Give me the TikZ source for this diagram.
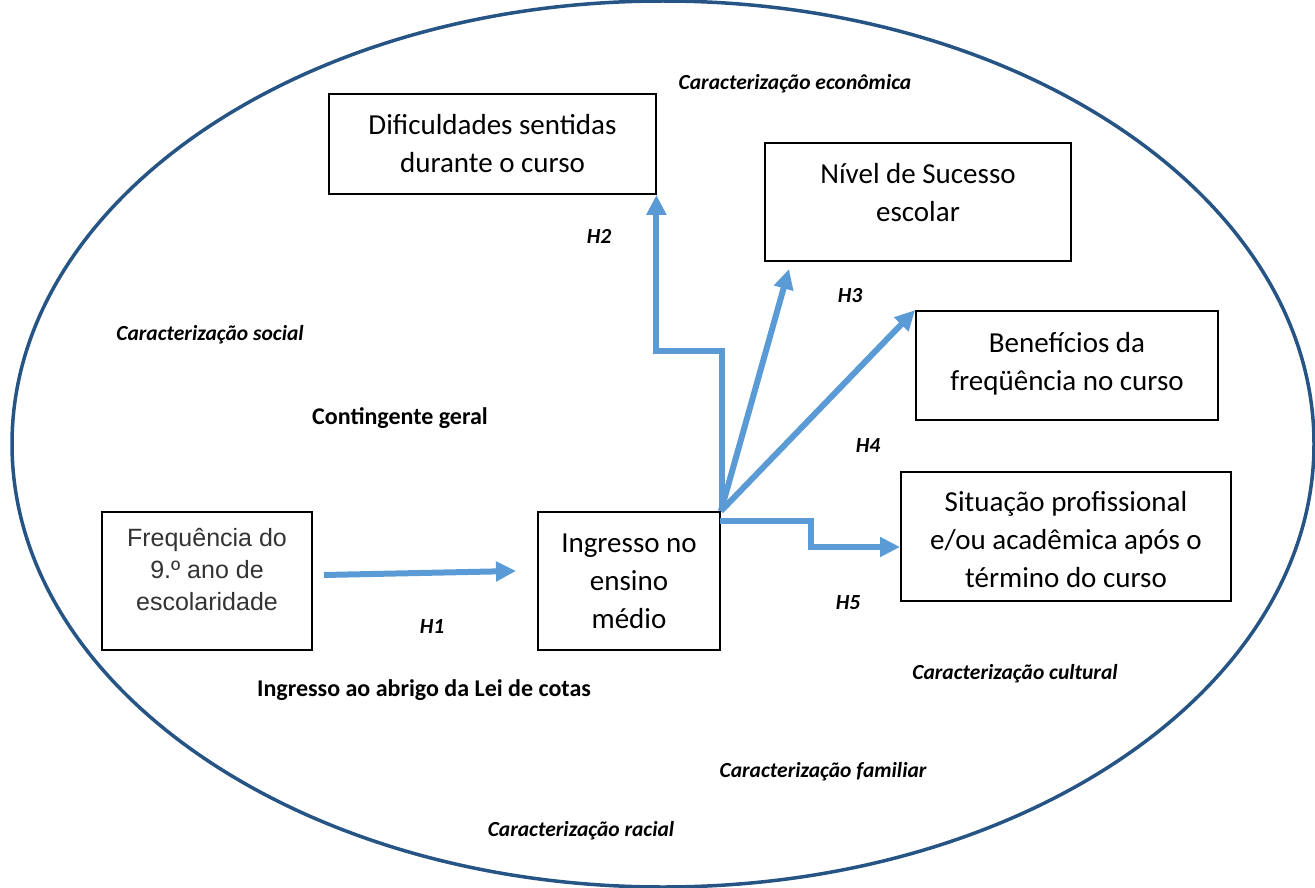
\documentclass[tikz,border=0pt]{standalone}
\usepackage{fontspec}
\setmainfont{Carlito}
\newfontfamily\arialfont{Liberation Sans}
\usetikzlibrary{arrows.meta}
\definecolor{ellblue}{RGB}{38,84,132}
\definecolor{arrblue}{RGB}{91,155,213}
\tikzset{
  boxnode/.style={draw=black, line width=1.8pt, align=center, inner sep=0pt,
    font=\fontsize{29}{38}\selectfont},
  lab/.style={font=\fontsize{21.5}{25}\selectfont\bfseries\itshape, inner sep=0pt},
  boldlab/.style={font=\fontsize{24}{28}\selectfont\bfseries, inner sep=0pt},
  hyp/.style={arrblue, line width=6pt, line join=miter, -{Triangle[length=20pt,width=19pt]}},
}
\begin{document}
\begin{tikzpicture}[x=1pt,y=-1pt]
\useasboundingbox (0,0) rectangle (1315,888);
% ellipse
\draw[ellblue, line width=3.5pt] (663,444) ellipse [x radius=651, y radius=443];

% boxes
\node[boxnode, minimum width=327pt, minimum height=100pt] (dif) at (492.5,144)
  {Dificuldades sentidas\\durante o curso};
\node[boxnode, minimum width=306pt, minimum height=118pt] (niv) at (918,202)
  {Nível de Sucesso\\escolar\\[-18pt]\mbox{}};
\node[boxnode, minimum width=302pt, minimum height=109pt] (ben) at (1067,365.5)
  {Benefícios da\\freqüência no curso\\[-30pt]\mbox{}};
\node[boxnode, minimum width=330pt, minimum height=129pt] (sit) at (1066,536.5) {};
\node[align=center, inner sep=0pt, font=\fontsize{29}{38}\selectfont] (sittext) at (1066,539.5)
  {Situação profissional\\e/ou acadêmica após o\\término do curso};
\node[boxnode, minimum width=210pt, minimum height=138pt, font=\arialfont\fontsize{25}{32}\selectfont, text=black!80] (fre) at (207,581)
  {Frequência do\\9.º ano de\\escolaridade\\[-8pt]\mbox{}};
\node[boxnode, minimum width=182pt, minimum height=138pt] (ing) at (629,581)
  {Ingresso no\\ensino\\médio};

% connector coordinates
\coordinate (h1s) at (324,575);
\coordinate (h1t) at (516,571);
\coordinate (h3t) at (789,269);
\coordinate (h5a) at (720,521);
\coordinate (h5b) at (811,521);
\coordinate (h5c) at (811,547);
\coordinate (h5t) at (900,547);

% arrows
\draw[hyp] (h1s) -- (h1t);
\draw[hyp] ([xshift=1pt]ing.north east) -- ++(0,-160) -| ([xshift=-0.5pt]dif.south east);
\draw[hyp] (ing.north east) -- (h3t);
\draw[hyp] (ing.north east) -- (ben.north west);
\draw[hyp] (h5a) -- (h5b) -- (h5c) -- (h5t);

% labels
\node[lab] (econ) at (795,84) {Caracterização econômica};
\node[lab] (soc) at (210,335) {Caracterização social};
\node[boldlab] (cont) at (400,418) {Contingente geral};
\node[boldlab] (lei) at (424,690) {Ingresso ao abrigo da Lei de cotas};
\node[lab] (cult) at (1015,674) {Caracterização cultural};
\node[lab] (fam) at (823,772) {Caracterização familiar};
\node[lab] (rac) at (581,831) {Caracterização racial};
\node[lab] (H1) at (432,627) {H1};
\node[lab] (H2) at (599,236) {H2};
\node[lab] (H3) at (850,296) {H3};
\node[lab] (H4) at (868,446) {H4};
\node[lab] (H5) at (848,603) {H5};
\end{tikzpicture}
\end{document}
